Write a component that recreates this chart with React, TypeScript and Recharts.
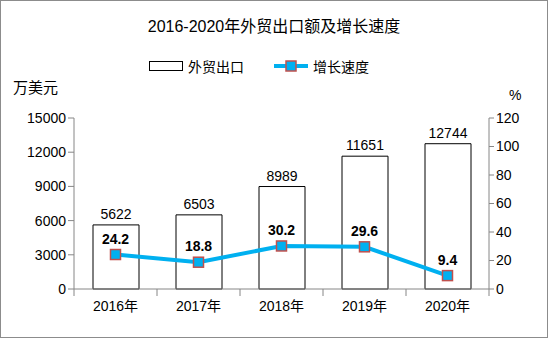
import { ComposedChart, Bar, Line, XAxis, YAxis, LabelList } from "recharts";

const years = ["2016年", "2017年", "2018年", "2019年", "2020年"];
const exportValues = [5622, 6503, 8989, 11651, 12744];
const growthRates = [24.2, 18.8, 30.2, 29.6, 9.4];
const leftTicks = [0, 3000, 6000, 9000, 12000, 15000];
const rightTicks = [0, 20, 40, 60, 80, 100, 120];

const data = years.map((year, i) => ({ year, exports: exportValues[i], growth: growthRates[i] }));

const FONT = "'Liberation Sans', 'Noto Sans CJK SC', sans-serif";
const AXIS = "#868686";
const LINE = "#00B0F0";
const MARK = "#C0504D";

// 方形标记
const SquareDot = (props: any) => {
  const { cx, cy } = props;
  if (cx == null || cy == null) return null;
  return <rect x={cx - 5} y={cy - 5} width={10} height={10} fill={LINE} stroke={MARK} strokeWidth={1.5} />;
};

// 类别之间的刻度线（Excel 风格）
const CategoryTick = (props: any) => {
  const { x, y, payload, index } = props;
  const half = payload.offset || 41.5;
  return (
    <g>
      <line x1={x - half} y1={y - 8} x2={x - half} y2={y - 1} stroke={AXIS} />
      {index === years.length - 1 && <line x1={x + half} y1={y - 8} x2={x + half} y2={y - 1} stroke={AXIS} />}
      <text x={x} y={y + 14} textAnchor="middle" fontSize={14} fill="#000" fontFamily={FONT}>
        {payload.value}
      </text>
    </g>
  );
};

const LegendBox = () => (
  <div
    style={{
      position: "absolute",
      top: 55,
      left: 0,
      width: 546,
      display: "flex",
      alignItems: "center",
      fontSize: 14,
      fontFamily: FONT,
      color: "#000",
    }}
  >
    <span style={{ display: "inline-block", width: 32, height: 8, border: "1px solid #000", marginLeft: 148 }} />
    <span style={{ marginLeft: 5 }}>外贸出口</span>
    <svg width={34} height={12} style={{ marginLeft: 30 }}>
      <line x1={0} y1={6} x2={34} y2={6} stroke={LINE} strokeWidth={4} />
      <rect x={12} y={1} width={10} height={10} fill={LINE} stroke={MARK} strokeWidth={1.5} />
    </svg>
    <span style={{ marginLeft: 5 }}>增长速度</span>
  </div>
);

export default function App() {
  return (
    <div
      style={{
        position: "absolute",
        left: 0,
        top: 0,
        width: 546,
        height: 336,
        border: "1px solid #8c8c8c",
        background: "#fff",
        fontFamily: FONT,
      }}
    >
      <div style={{ position: "absolute", top: 12, width: "100%", textAlign: "center", fontSize: 16, color: "#000" }}>
        2016-2020年外贸出口额及增长速度
      </div>
      <LegendBox />
      <div style={{ position: "absolute", left: 12, top: 75, fontSize: 15, color: "#000" }}>万美元</div>
      <div style={{ position: "absolute", left: 508, top: 86, fontSize: 14, color: "#000" }}>%</div>
      <ComposedChart width={546} height={336} data={data} margin={{ top: 117, right: 13, bottom: 18, left: 13 }}>
        <XAxis
          dataKey="year"
          stroke={AXIS}
          tickLine={false}
          tick={<CategoryTick />}
          height={30}
          interval={0}
        />
        <YAxis
          yAxisId="left"
          domain={[0, 15000]}
          ticks={leftTicks}
          width={60}
          stroke={AXIS}
          tickSize={6}
          tick={{ fill: "#000", fontSize: 14, fontFamily: FONT }}
          interval={0}
        />
        <YAxis
          yAxisId="right"
          orientation="right"
          domain={[0, 120]}
          ticks={rightTicks}
          width={45}
          stroke={AXIS}
          tickSize={5}
          tick={{ fill: "#000", fontSize: 14, fontFamily: FONT }}
          interval={0}
        />
        <Bar yAxisId="left" dataKey="exports" fill="#fff" stroke="#000" strokeWidth={1} barSize={46} isAnimationActive={false}>
          <LabelList dataKey="exports" position="top" offset={6} fill="#000" fontSize={14} fontFamily={FONT} />
        </Bar>
        <Line
          yAxisId="right"
          dataKey="growth"
          stroke={LINE}
          strokeWidth={4}
          dot={<SquareDot />}
          activeDot={false}
          isAnimationActive={false}
        >
          <LabelList dataKey="growth" position="top" offset={11} fill="#000" fontSize={14} fontWeight="bold" fontFamily={FONT} />
        </Line>
      </ComposedChart>
    </div>
  );
}
